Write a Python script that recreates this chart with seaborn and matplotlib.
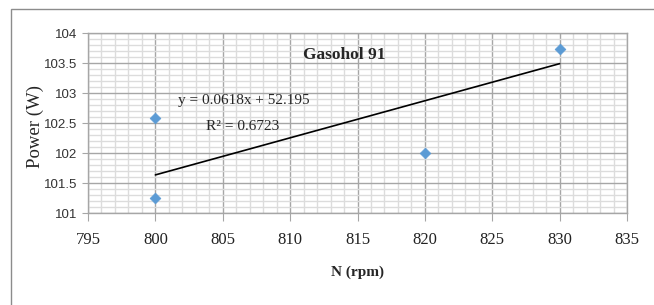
import numpy as np
import pandas as pd
import matplotlib
matplotlib.use("Agg")
import matplotlib.pyplot as plt
from matplotlib.patches import Rectangle
from matplotlib.ticker import MultipleLocator
import seaborn as sns

# ===============================
# DATOS
# ===============================
rpm = [800, 800, 820, 830]
power = [102.58, 101.25, 102.0, 103.73]

slope = 0.0618
intercept = 52.195
r2 = 0.6723
trend_x = [800, 830]

titulo = "Gasohol 91"
eq_text = "y = 0.0618x + 52.195"
r2_text = "R² = 0.6723"

# ===============================
# GRAFICO
# ===============================
sns.set_style("white")
serif = ["Liberation Serif", "DejaVu Serif"]
narrow = ["Liberation Sans Narrow", "Liberation Sans", "DejaVu Sans"]

fig = plt.figure(figsize=(6.54, 3.05), dpi=100)
ax = fig.add_axes([88 / 654, 1 - 213 / 305, (627 - 88) / 654, (213 - 33) / 305])

# borde exterior del area del grafico
fig.patches.append(Rectangle((11 / 654, -0.1), 1.2, 1 - 9 / 305 + 0.1,
                             transform=fig.transFigure, fill=False,
                             edgecolor="#8c8c8c", linewidth=1.0))

df = pd.DataFrame({"N": rpm, "P": power})
trend = pd.DataFrame({"N": trend_x, "P": [slope * x + intercept for x in trend_x]})

sns.lineplot(data=trend, x="N", y="P", color="black", linewidth=1.2, ax=ax, zorder=3)
sns.scatterplot(data=df, x="N", y="P", marker="D", s=30, color="#5b9bd5",
                edgecolor="#5b9bd5", linewidth=0.5, ax=ax, zorder=4)

ax.set_xlim(795, 835)
ax.set_ylim(101, 104)
ax.xaxis.set_major_locator(MultipleLocator(5))
ax.xaxis.set_minor_locator(MultipleLocator(1))
ax.yaxis.set_major_locator(MultipleLocator(0.5))
ax.yaxis.set_minor_locator(MultipleLocator(0.1))
ax.grid(which="minor", color="#dcdcdc", linewidth=1.0)
ax.grid(which="major", color="#a6a6a6", linewidth=1.0)
ax.set_axisbelow(True)

for s in ax.spines.values():
    s.set_color("#a6a6a6")
    s.set_linewidth(1.0)

ax.tick_params(axis="x", which="major", direction="out", length=6, color="#a6a6a6",
               bottom=True, pad=8)
ax.tick_params(axis="y", which="major", direction="out", length=4, color="#a6a6a6",
               left=True, pad=4)
ax.tick_params(which="minor", length=0)

ax.set_xticks([795, 800, 805, 810, 815, 820, 825, 830, 835])
ax.set_xticklabels(["795", "800", "805", "810", "815", "820", "825", "830", "835"],
                   family=serif, fontsize=12, color="#222222")
ax.set_yticks([101, 101.5, 102, 102.5, 103, 103.5, 104])
ax.set_yticklabels(["101", "101.5", "102", "102.5", "103", "103.5", "104"],
                   family=narrow, fontsize=9.5, color="#333333")

ax.set_xlabel("N (rpm)", family=serif, fontsize=11, fontweight="bold", labelpad=12)
ax.set_ylabel("Power (W)", family=serif, fontsize=13.5, labelpad=10)
ax.yaxis.set_label_coords(-(88 - 44) / 539, (213 - 127) / 180)

ax.text(814.0, 103.63, titulo, ha="center", va="center",
        family=serif, fontsize=12.5, fontweight="bold")
ax.text(806.55, 102.87, eq_text, ha="center", va="center", family=serif, fontsize=11)
ax.text(806.5, 102.45, r2_text, ha="center", va="center", family=serif, fontsize=11)

fig.savefig("out.png", dpi=100)
